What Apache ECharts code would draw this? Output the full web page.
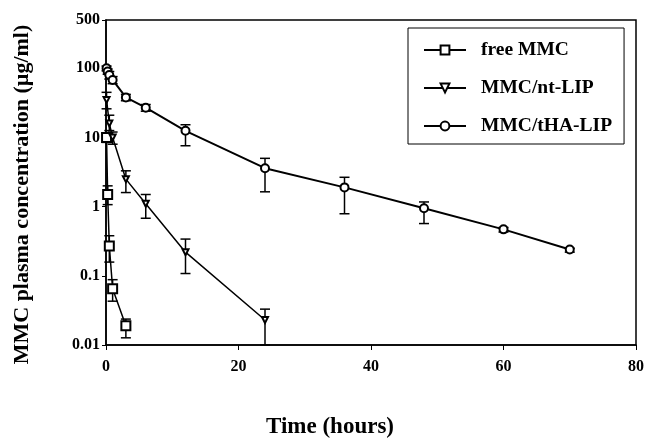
<!DOCTYPE html>
<html>
<head>
<meta charset="utf-8">
<script src="https://cdn.jsdelivr.net/npm/echarts@6/dist/echarts.min.js"></script>
<style>
  html, body { margin: 0; padding: 0; background: #fff; }
  #chart { width: 647px; height: 444px; }
</style>
</head>
<body>
<div id="chart"></div>
<script>
// free MMC
const freeTime = [0.083, 0.25, 0.5, 1, 3];
const freeMean = [10, 1.5, 0.27, 0.065, 0.019];
const freeLow = [8.5, 1.07, 0.158, 0.043, 0.0127];
const freeHigh = [11.5, 2.0, 0.38, 0.088, 0.0237];

// MMC/nt-LIP
const ntTime = [0.083, 0.5, 1, 3, 6, 12, 24];
const ntMean = [35, 16, 10, 2.5, 1.1, 0.22, 0.023];
const ntLow = [26, 12.6, 8, 1.6, 0.68, 0.108, 0.01];
const ntHigh = [45, 21, 12, 3.3, 1.5, 0.34, 0.033];

// MMC/tHA-LIP
const thaTime = [0.083, 0.25, 0.5, 1, 3, 6, 12, 24, 36, 48, 60, 70];
const thaMean = [100, 90, 80, 68, 38, 27, 12.5, 3.6, 1.9, 0.95, 0.47, 0.24];
const thaLow = [92, 82, 70, 60, 34, 24, 7.6, 1.64, 0.79, 0.57, 0.43, 0.22];
const thaHigh = [108, 98, 90, 76, 42, 30, 15.3, 5.0, 2.66, 1.17, 0.5, 0.25];

const font = "Liberation Serif";

function pairs(t, v) {
  return t.map((x, i) => [x, v[i]]);
}
function bars(t, lo, hi) {
  return t.map((x, i) => [x, lo[i], hi[i]]);
}

function renderErr(params, api) {
  const top = api.coord([api.value(0), api.value(2)]);
  const bot = api.coord([api.value(0), api.value(1)]);
  const w = 5;
  const style = { stroke: "#000", lineWidth: 1.5 };
  return {
    type: "group",
    children: [
      { type: "line", shape: { x1: top[0], y1: top[1], x2: bot[0], y2: bot[1] }, style: style },
      { type: "line", shape: { x1: top[0] - w, y1: top[1], x2: top[0] + w, y2: top[1] }, style: style },
      { type: "line", shape: { x1: bot[0] - w, y1: bot[1], x2: bot[0] + w, y2: bot[1] }, style: style }
    ]
  };
}

function lineSeries(name, data, symbol, size, rotate, width) {
  return {
    name: name,
    type: "line",
    data: data,
    symbol: symbol,
    symbolSize: size,
    symbolRotate: rotate,
    showAllSymbol: true,
    lineStyle: { color: "#000", width: width },
    itemStyle: { color: "#000", borderColor: "#000", borderWidth: 1.3 },
    z: 3
  };
}

function errSeries(data) {
  return {
    type: "custom",
    data: data,
    renderItem: renderErr,
    z: 2,
    silent: true
  };
}

const chart = echarts.init(document.getElementById("chart"));
chart.setOption({
  animation: false,
  backgroundColor: "#fff",
  grid: {
    left: 106, right: 8, top: 20, bottom: 95,
    show: true, borderColor: "#000", borderWidth: 1.5
  },
  legend: {
    orient: "vertical",
    left: 408, top: 28,
    padding: [12, 12, 8, 15],
    itemGap: 18,
    itemWidth: 42,
    itemHeight: 11,
    borderColor: "#000",
    borderWidth: 1,
    data: ["free MMC", "MMC/nt-LIP", "MMC/tHA-LIP"],
    textStyle: {
      fontFamily: font, fontWeight: "bold", fontSize: 19.5, color: "#000",
      lineHeight: 20, padding: [0, 0, 0, 10]
    }
  },
  xAxis: {
    type: "value",
    min: 0, max: 80, interval: 20,
    name: "Time (hours)",
    nameLocation: "middle",
    nameGap: 71,
    nameTextStyle: {
      fontFamily: font, fontWeight: "bold", fontSize: 23, color: "#000",
      padding: [0, 82, 0, 0]
    },
    axisLine: { lineStyle: { color: "#000", width: 1.5 } },
    axisTick: { show: true, length: 5, lineStyle: { color: "#000" } },
    axisLabel: { fontFamily: font, fontWeight: "bold", fontSize: 16, color: "#000", margin: 14 },
    splitLine: { show: false }
  },
  yAxis: {
    type: "log",
    logBase: 10,
    min: 0.01, max: 500,
    name: "MMC plasma concentration (µg/ml)",
    nameLocation: "middle",
    nameGap: 73,
    nameTextStyle: {
      fontFamily: font, fontWeight: "bold", fontSize: 22, color: "#000",
      padding: [0, 24, 0, 0]
    },
    axisLine: { lineStyle: { color: "#000", width: 1.5 } },
    axisTick: { show: true, length: 4, lineStyle: { color: "#000" } },
    axisLabel: {
      fontFamily: font, fontWeight: "bold", fontSize: 16, color: "#000", margin: 6,
      formatter: v => String(Number(v.toPrecision(3)))
    },
    splitLine: { show: false },
    minorTick: { show: false }
  },
  series: [
    errSeries(bars(freeTime, freeLow, freeHigh)),
    errSeries(bars(ntTime, ntLow, ntHigh)),
    errSeries(bars(thaTime, thaLow, thaHigh)),
    lineSeries("free MMC", pairs(freeTime, freeMean), "emptyRect", 9, 0, 1.5),
    lineSeries("MMC/nt-LIP", pairs(ntTime, ntMean), "emptyTriangle", 6, 180, 1.5),
    lineSeries("MMC/tHA-LIP", pairs(thaTime, thaMean), "emptyCircle", 8, 0, 2)
  ]
});

window.addEventListener("resize", () => chart.resize());
</script>
</body>
</html>
